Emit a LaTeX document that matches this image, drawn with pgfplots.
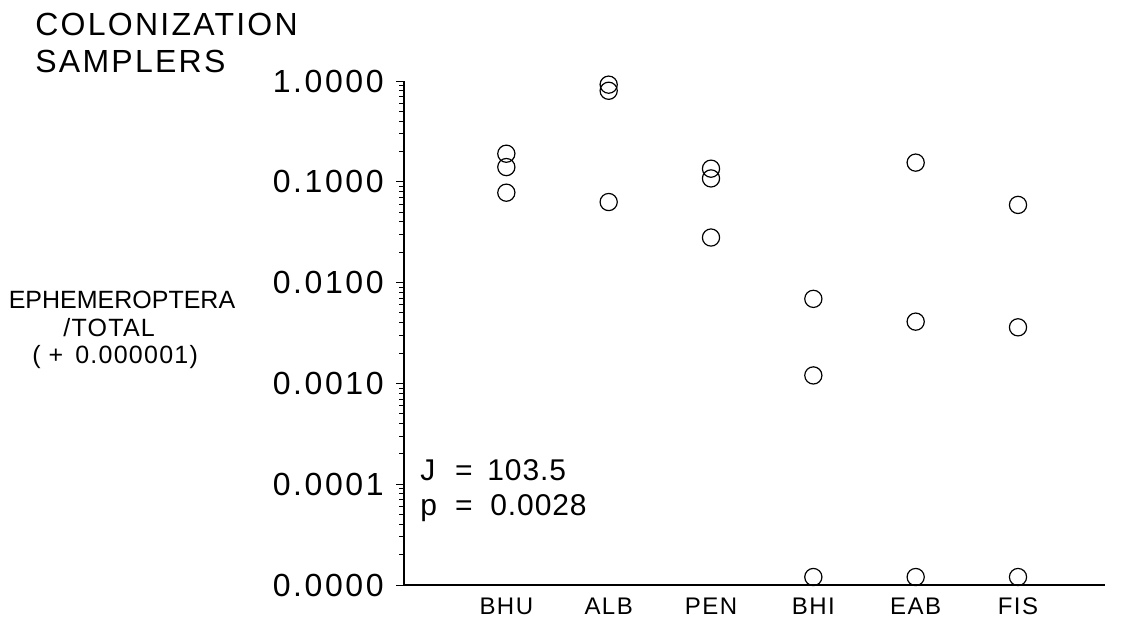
\documentclass[border=0pt]{standalone}
\usepackage{fontspec}
\setmainfont{Liberation Sans}
\usepackage{pgfplots}
\pgfplotsset{compat=1.18}
\newfontfamily\tickfont[LetterSpace=8]{Liberation Sans}
\newfontfamily\titlefont[LetterSpace=7]{Liberation Sans}
\newfontfamily\statfont[LetterSpace=3]{Liberation Sans}
\newfontfamily\catfont[LetterSpace=6]{Liberation Sans}
\newfontfamily\labfont[LetterSpace=5]{Liberation Sans}
\newfontfamily\numfont[LetterSpace=5]{Liberation Sans}
\begin{document}
\begin{tikzpicture}
\useasboundingbox (0,0) rectangle (562pt,-317.5pt);
\begin{axis}[
  at={(202pt,-292.5pt)}, anchor=south west,
  scale only axis, width=350.5pt, height=252pt,
  xmin=0, xmax=6.85,
  ymode=log, ymin=1e-5, ymax=1,
  axis x line*=bottom, axis y line*=left,
  axis line style={line width=0.7pt, -},
  xtick={1,2,3,4,5,6},
  xticklabels={BHU,ALB,PEN,BHI,EAB,FIS},
  x tick style={draw=none},
  xticklabel style={font=\catfont\fontsize{12}{14}\selectfont, anchor=north, yshift=1pt},
  ytick={1e-5,1e-4,1e-3,1e-2,1e-1,1},
  yticklabels={0.0000,0.0001,0.0010,0.0100,0.1000,1.0000},
  yticklabel style={font=\tickfont\fontsize{16}{18}\selectfont, anchor=east, inner sep=0pt, xshift=-6pt},
  tick align=outside,
  major tick length=4pt, minor tick length=2.5pt,
  y tick style={line width=0.5pt, black},
  clip=false,
]
\addplot[only marks, mark=o, mark size=4.3pt, mark options={line width=0.6pt, black}] coordinates {
 (1,0.19) (1,0.14) (1,0.078)
 (2,0.92) (2,0.80) (2,0.063)
 (3,0.135) (3,0.108) (3,0.028)
 (4,0.0069) (4,0.0012) (4,1.2e-5)
 (5,0.155) (5,0.0041) (5,1.2e-5)
 (6,0.059) (6,0.0036) (6,1.2e-5)
};
\end{axis}
\begin{scope}[every node/.style={inner sep=0pt, font=\statfont\fontsize{15}{17}\selectfont}]
\node[anchor=base west] at (210pt,-240.5pt) {J};
\node[anchor=base] at (232pt,-240.5pt) {=};
\node[anchor=base west] at (243.5pt,-240.5pt) {103.5};
\node[anchor=base west] at (210pt,-258pt) {p};
\node[anchor=base] at (232pt,-258pt) {=};
\node[anchor=base west] at (245pt,-258pt) {0.0028};
\end{scope}
\node[anchor=west, inner sep=0pt, font=\titlefont\fontsize{16}{18}\selectfont] at (17.5pt,-12pt) {COLONIZATION};
\node[anchor=west, inner sep=0pt, font=\titlefont\fontsize{16}{18}\selectfont] at (17.5pt,-30.5pt) {SAMPLERS};
\node[anchor=base, inner sep=0pt, font=\fontsize{12.5}{14}\selectfont] at (61pt,-154.5pt) {EPHEMEROPTERA};
\node[anchor=base west, inner sep=0pt, font=\labfont\fontsize{12.5}{14}\selectfont] at (31.5pt,-168.5pt) {/TOTAL};
\node[anchor=base west, inner sep=0pt, font=\numfont\fontsize{12.5}{14}\selectfont] at (16pt,-182pt) {(\hspace{4pt}+\hspace{6pt}0.000001)};
\end{tikzpicture}
\end{document}
